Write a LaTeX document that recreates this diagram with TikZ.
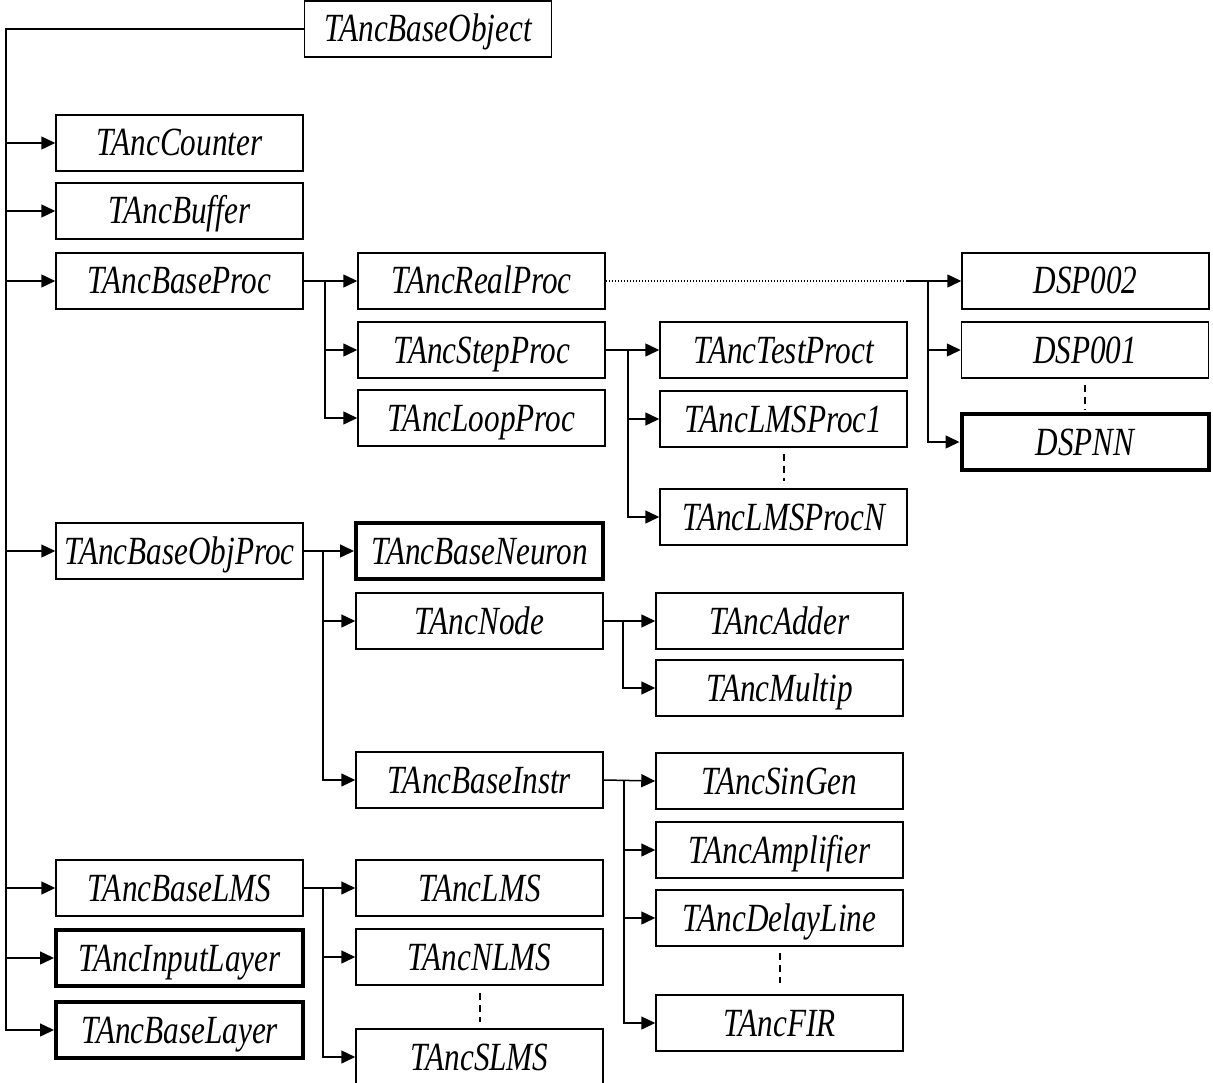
\documentclass[tikz,border=0pt]{standalone}
\usepackage{fontspec}
\newfontfamily\lab{Liberation Serif}[FakeStretch=0.78]
\usetikzlibrary{arrows.meta}
\begin{document}
\begin{tikzpicture}[x=1pt,y=-1pt,
  cls/.style={draw,line width=1.5pt,minimum width=247pt,minimum height=56pt,inner sep=0pt,
    text height=26pt,text depth=0pt,font=\lab\itshape\fontsize{40}{48}\selectfont},
  thickcls/.style={cls,line width=4pt},
  conn/.style={line width=1.5pt},
  arr/.style={conn,-{Triangle[length=14pt,width=13pt]}},
  vdash/.style={line width=2pt,dash pattern=on 7pt off 5pt},
  dotline/.style={line width=1.5pt,dash pattern=on 1.5pt off 1.5pt}]
\useasboundingbox (0,0) rectangle (1213,1083);
\clip (0,0) rectangle (1213,1083);
% column 1
\node[cls] (obj) at (428,29) {TAncBaseObject};
\node[cls] (counter) at (179.5,143) {TAncCounter};
\node[cls] (buffer) at (179.5,211) {TAncBuffer};
\node[cls] (bproc) at (179.5,281) {TAncBaseProc};
\node[cls] (bobjproc) at (179.5,551) {TAncBaseObjProc};
\node[cls] (blms) at (179.5,888) {TAncBaseLMS};
\node[thickcls] (ilayer) at (179.5,958) {TAncInputLayer};
\node[thickcls] (blayer) at (179.5,1030) {TAncBaseLayer};
% column 2
\node[cls] (realproc) at (481.5,281) {TAncRealProc};
\node[cls] (stepproc) at (481.5,350) {TAncStepProc};
\node[cls] (loopproc) at (481.5,418) {TAncLoopProc};
\node[thickcls] (neuron) at (479.5,551) {TAncBaseNeuron};
\node[cls] (node) at (479.5,621) {TAncNode};
\node[cls] (binstr) at (479.5,780) {TAncBaseInstr};
\node[cls] (lms) at (479.5,888) {TAncLMS};
\node[cls] (nlms) at (479.5,957) {TAncNLMS};
\node[cls] (slms) at (479.5,1057) {TAncSLMS};
% column 3
\node[cls] (test) at (783.5,350) {TAncTestProct};
\node[cls] (lmsp1) at (783.5,419) {TAncLMSProc1};
\node[cls] (lmspn) at (783.5,517) {TAncLMSProcN};
\node[cls] (adder) at (779.5,621) {TAncAdder};
\node[cls] (multip) at (779.5,688) {TAncMultip};
\node[cls] (singen) at (779.5,781) {TAncSinGen};
\node[cls] (ampl) at (779.5,850) {TAncAmplifier};
\node[cls] (delay) at (779.5,918) {TAncDelayLine};
\node[cls] (fir) at (779.5,1023) {TAncFIR};
% column 4
\node[cls] (dsp2) at (1085.5,281) {DSP002};
\node[cls] (dsp1) at (1085,350) {DSP001};
\node[thickcls] (dspnn) at (1085,442) {DSPNN};
% trunk
\coordinate (trunk) at (6,500);
\draw[arr] (obj.west) -| (trunk) |- (blayer.west);
\foreach \n in {counter,buffer,bproc,bobjproc,blms,ilayer}
  \draw[arr] (trunk |- \n.west) -- (\n.west);
% TAncBaseProc branch
\coordinate (b1) at (325,0);
\draw[arr] (bproc.east) -- (realproc.west);
\draw[arr] (b1 |- bproc.east) |- (stepproc.west);
\draw[arr] (b1 |- bproc.east) |- (loopproc.west);
% TAncStepProc branch
\coordinate (b2) at (628,0);
\draw[arr] (stepproc.east) -- (test.west);
\draw[arr] (b2 |- stepproc.east) |- (lmsp1.west);
\draw[arr] (b2 |- stepproc.east) |- (lmspn.west);
\draw[vdash] ([yshift=-6pt]lmsp1.south) -- ([yshift=7pt]lmspn.north);
% DSP branch
\coordinate (dj) at (907,281);
\coordinate (b4) at (928,0);
\draw[dotline] (realproc.east) -- (dj);
\draw[arr] (dj) -- (dsp2.west);
\draw[arr] (b4 |- dsp2.west) |- (dsp1.west);
\draw[arr] (b4 |- dsp2.west) |- (dspnn.west);
\draw[vdash] ([yshift=-6pt]dsp1.south) -- ([yshift=3pt]dspnn.north);
% TAncBaseObjProc branch
\coordinate (b3) at (323,0);
\draw[arr] (bobjproc.east) -- (neuron.west);
\draw[arr] (b3 |- bobjproc.east) |- (node.west);
\draw[arr] (b3 |- bobjproc.east) |- (binstr.west);
% TAncNode branch
\coordinate (b5) at (623,0);
\draw[arr] (node.east) -- (adder.west);
\draw[arr] (b5 |- node.east) |- (multip.west);
% TAncBaseInstr branch
\coordinate (b6) at (624,0);
\draw[arr] (binstr.east) -- (singen.west);
\draw[arr] (b6 |- binstr.east) |- (ampl.west);
\draw[arr] (b6 |- binstr.east) |- (delay.west);
\draw[arr] (b6 |- binstr.east) |- (fir.west);
\draw[vdash] ([yshift=-6pt]delay.south) -- ([yshift=11pt]fir.north);
% TAncBaseLMS branch
\coordinate (b7) at (323,0);
\draw[arr] (blms.east) -- (lms.west);
\draw[arr] (b7 |- blms.east) |- (nlms.west);
\draw[arr] (b7 |- blms.east) |- (slms.west);
\draw[vdash] ([yshift=-7pt]nlms.south) -- ([yshift=6pt]slms.north);
\end{tikzpicture}
\end{document}
